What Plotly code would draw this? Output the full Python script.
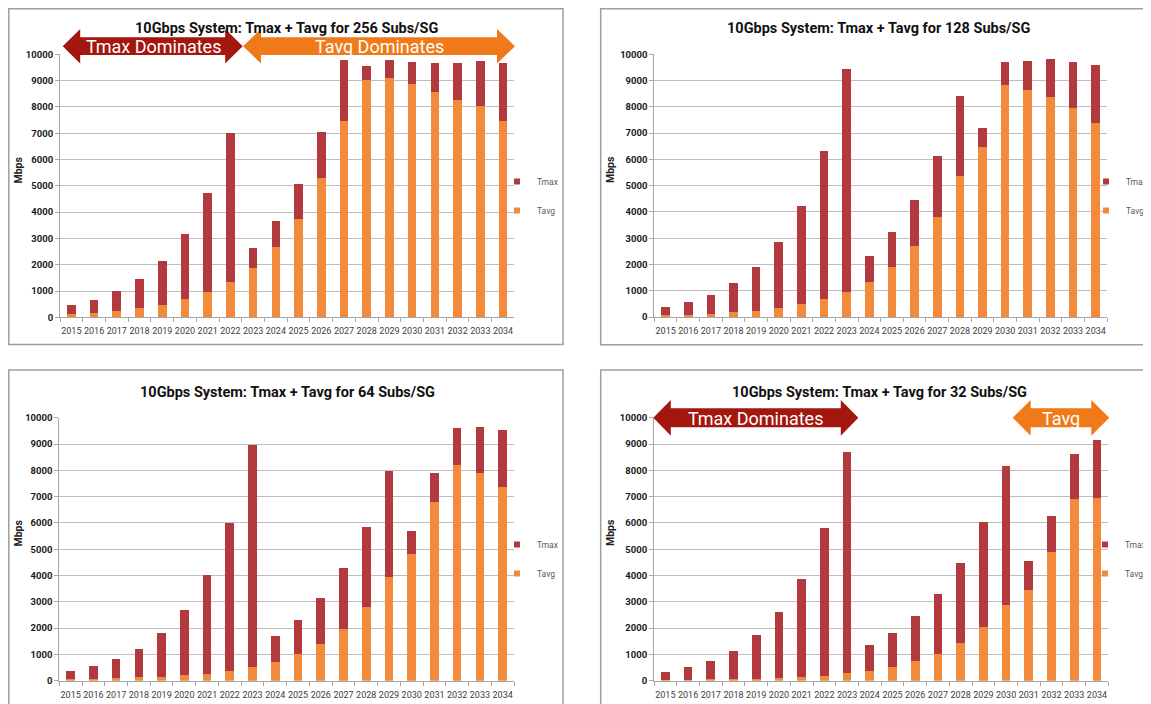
import plotly.graph_objects as go

# ---------------- data ----------------
years = ["2015", "2016", "2017", "2018", "2019", "2020", "2021", "2022", "2023", "2024",
         "2025", "2026", "2027", "2028", "2029", "2030", "2031", "2032", "2033", "2034"]

titles = [
    "10Gbps System: Tmax + Tavg for 256 Subs/SG",
    "10Gbps System: Tmax + Tavg for 128 Subs/SG",
    "10Gbps System: Tmax + Tavg for 64 Subs/SG",
    "10Gbps System: Tmax + Tavg for 32 Subs/SG",
]

tavg_256 = [140, 170, 240, 340, 480, 685, 950, 1345, 1875, 2660,
            3740, 5285, 7480, 9010, 9090, 8860, 8580, 8280, 8020, 7480]
tmax_256 = [315, 490, 760, 1105, 1675, 2495, 3765, 5655, 760, 990,
            1330, 1750, 2305, 535, 695, 860, 1105, 1405, 1740, 2205]

tavg_128 = [75, 90, 130, 180, 240, 330, 495, 690, 965, 1335,
            1890, 2705, 3800, 5375, 6480, 8830, 8655, 8385, 7940, 7380]
tmax_128 = [305, 480, 720, 1105, 1680, 2515, 3735, 5640, 8465, 1005,
            1340, 1730, 2310, 3050, 710, 880, 1105, 1425, 1770, 2215]

tavg_64 = [50, 60, 90, 125, 150, 200, 265, 380, 505, 720,
           1000, 1395, 1975, 2800, 3955, 4805, 6780, 8190, 7910, 7350]
tmax_64 = [320, 500, 720, 1090, 1650, 2490, 3740, 5615, 8445, 980,
           1320, 1750, 2295, 3045, 4005, 875, 1105, 1405, 1735, 2195]

tavg_32 = [25, 30, 50, 65, 80, 100, 140, 190, 280, 370,
           520, 735, 1015, 1445, 2040, 2865, 3450, 4880, 6895, 6960]
tmax_32 = [315, 490, 710, 1075, 1655, 2500, 3740, 5630, 8415, 1000,
           1305, 1710, 2295, 3030, 4005, 5310, 1115, 1395, 1735, 2205]

series_names = ["Tmax", "Tavg"]
y_title = "Mbps"
arrow_labels = ["Tmax Dominates", "Tavg Dominates", "Tmax Dominates", "Tavg"]

# ---------------- styling / layout ----------------
W, H = 1151, 704
OFF = 8  # page body margin: figure is drawn 8px in from the window corner
FONT = "Roboto, Lato, sans-serif"
C_TMAX = "#B23A3E"
C_TAVG = "#F18A3A"
C_ARROW_RED = "#A3170F"
C_ARROW_ORG = "#F07A1A"
GRID = "#BFBFBF"
AXIS = "#A6A6A6"


def px(x):
    return (x - OFF) / W


def py(y):
    return 1 - (y - OFF) / H


panels = [
    dict(tavg=tavg_256, tmax=tmax_256, title=titles[0], x0=60.0, x1=514.4, yt=54.3, yb=317.3,
         tx=286.6, ty=28.5, mx=17.5, my=170, lx=535, ly=196,
         box=(8.8, 8.8, 563, 344.5)),
    dict(tavg=tavg_128, tmax=tmax_128, title=titles[1], x0=654.3, x1=1107.0, yt=54.3, yb=317.0,
         tx=878.0, ty=29.0, mx=610, my=170, lx=1124, ly=196,
         box=(600.7, 8.8, 1175, 344.7)),
    dict(tavg=tavg_64, tmax=tmax_64, title=titles[2], x0=59.3, x1=514.0, yt=417.7, yb=680.7,
         tx=287.0, ty=392.0, mx=17.5, my=533, lx=535, ly=559,
         box=(8.8, 370, 563, 730)),
    dict(tavg=tavg_32, tmax=tmax_32, title=titles[3], x0=654.0, x1=1108.3, yt=417.7, yb=680.7,
         tx=879.0, ty=392.3, mx=610, my=533, lx=1123, ly=559,
         box=(600.7, 370, 1175, 730)),
]

fig = go.Figure()
layout_axes = {}
annotations = []
shapes = []

for i, p in enumerate(panels, start=1):
    xs = "x" if i == 1 else f"x{i}"
    ys = "y" if i == 1 else f"y{i}"
    lg = "legend" if i == 1 else f"legend{i}"

    fig.add_trace(go.Bar(x=years, y=p["tavg"], name=series_names[1], marker_color=C_TAVG,
                         marker_line_width=0, xaxis=xs, yaxis=ys, showlegend=False))
    fig.add_trace(go.Bar(x=years, y=p["tmax"], name=series_names[0], marker_color=C_TMAX,
                         marker_line_width=0, xaxis=xs, yaxis=ys, showlegend=False))
    # legend entries (small square swatches like the original)
    for nm, col in ((series_names[0], C_TMAX), (series_names[1], C_TAVG)):
        fig.add_trace(go.Scatter(x=[None], y=[None], mode="markers", name=nm,
                                 marker=dict(symbol="square", size=6, color=col),
                                 xaxis=xs, yaxis=ys, legend=lg, legendgroup=f"{nm}{i}",
                                 showlegend=True, hoverinfo="skip"))

    xkey = "xaxis" if i == 1 else f"xaxis{i}"
    ykey = "yaxis" if i == 1 else f"yaxis{i}"
    layout_axes[xkey] = dict(
        type="category", categoryorder="array", categoryarray=years, range=[-0.5, 19.5],
        domain=[px(p["x0"]), px(p["x1"])], anchor=ys, showline=True, linecolor=AXIS, linewidth=1,
        ticks="outside", tickson="boundaries", ticklen=4, tickcolor=AXIS, showgrid=False,
        tickfont=dict(family=FONT, size=9, color="#404040"), tickangle=0, ticklabelstandoff=5,
        fixedrange=True, zeroline=False, automargin=False,
    )
    layout_axes[ykey] = dict(
        range=[0, 10000], tick0=0, dtick=1000, tickformat="d",
        domain=[py(p["yb"]), py(p["yt"])], anchor=xs,
        showline=True, linecolor=AXIS, linewidth=1, ticks="outside", ticklen=4, tickcolor=AXIS,
        showgrid=True, gridcolor=GRID, gridwidth=1, zeroline=False, automargin=False,
        tickfont=dict(family=FONT, size=9.5, color="#1a1a1a", weight="bold"), fixedrange=True,
    )
    layout_axes[lg] = dict(
        x=px(p["lx"] - 38), y=py(p["ly"]), xanchor="left", yanchor="middle",
        xref="paper", yref="paper", bgcolor="rgba(0,0,0,0)", borderwidth=0,
        traceorder="grouped", tracegroupgap=10, itemwidth=30,
        font=dict(family=FONT, size=8.5, color="#595959"),
    )

    annotations.append(dict(text=p["title"], x=px(p["tx"]), y=py(p["ty"]), xref="paper", yref="paper",
                            xanchor="center", yanchor="middle", showarrow=False,
                            font=dict(family=FONT, size=14.5, color="#111111", weight="bold")))
    annotations.append(dict(text=y_title, x=px(p["mx"]), y=py(p["my"]), xref="paper", yref="paper",
                            xanchor="center", yanchor="middle", showarrow=False, textangle=-90,
                            font=dict(family=FONT, size=10.5, color="#222222", weight="bold")))
    bx0, by0, bx1, by1 = p["box"]
    shapes.append(dict(type="rect", xref="paper", yref="paper", x0=px(bx0), x1=px(bx1),
                       y0=py(by1), y1=py(by0), line=dict(color="#9E9E9E", width=1.5),
                       fillcolor="rgba(0,0,0,0)", layer="below"))


def arrow_path(xl, xr, yc, hh, sh, hw):
    pts = [(xl, yc), (xl + hw, yc - hh), (xl + hw, yc - sh), (xr - hw, yc - sh), (xr - hw, yc - hh),
           (xr, yc), (xr - hw, yc + hh), (xr - hw, yc + sh), (xl + hw, yc + sh), (xl + hw, yc + hh)]
    return "M " + " L ".join(f"{px(x):.5f},{py(y):.5f}" for x, y in pts) + " Z"


arrows = [
    (62.7, 242.7, 46.2, 17.2, 8.9, 17.5, C_ARROW_RED, arrow_labels[0], 153.5),
    (243.0, 515.0, 46.2, 17.2, 8.9, 18.0, C_ARROW_ORG, arrow_labels[1], 379.5),
    (653.3, 858.3, 417.8, 17.9, 9.5, 17.5, C_ARROW_RED, arrow_labels[2], 755.5),
    (1012.7, 1109.3, 417.8, 17.9, 9.5, 18.0, C_ARROW_ORG, arrow_labels[3], 1060.7),
]
for xl, xr, yc, hh, sh, hw, col, lab, tx in arrows:
    shapes.append(dict(type="path", xref="paper", yref="paper", path=arrow_path(xl, xr, yc, hh, sh, hw),
                       fillcolor=col, line=dict(width=0), layer="above"))
    annotations.append(dict(text=lab, x=px(tx), y=py(yc + 0.5), xref="paper", yref="paper",
                            xanchor="center", yanchor="middle", showarrow=False,
                            font=dict(family=FONT, size=18, color="white")))

fig.update_layout(
    width=W, height=H, margin=dict(l=0, r=0, t=0, b=0, pad=0), autosize=False,
    paper_bgcolor="white", plot_bgcolor="rgba(0,0,0,0)",
    barmode="stack", bargap=0.62, showlegend=True,
    font=dict(family=FONT),
    annotations=annotations, shapes=shapes,
    **layout_axes,
)

fig.write_html("out.html")
